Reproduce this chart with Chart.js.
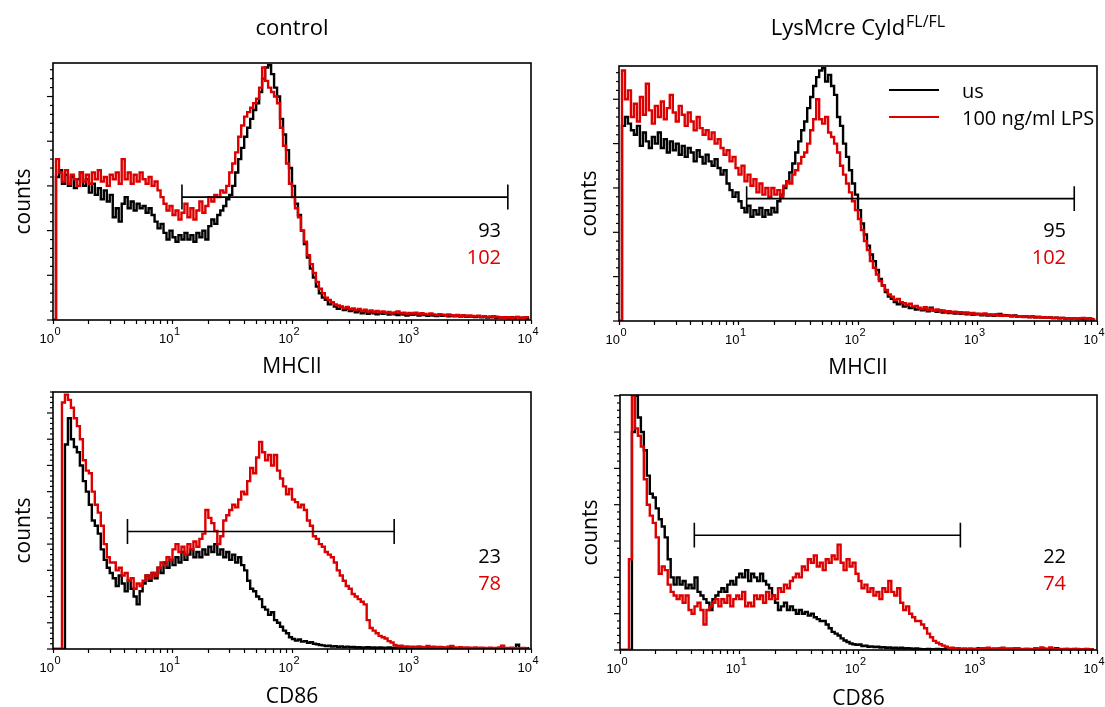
<!DOCTYPE html>
<html>
<head>
<meta charset="utf-8">
<title>MHCII / CD86 histograms</title>
<script src="https://cdn.jsdelivr.net/npm/chart.js@4.4.1/dist/chart.umd.min.js"></script>
<style>
  html, body { margin: 0; padding: 0; background: #fff; }
  body { position: relative; width: 1105px; height: 707px; overflow: hidden; }
  canvas { position: absolute; }
</style>
</head>
<body>
<canvas id="mhcControl"></canvas>
<canvas id="mhcCyld"></canvas>
<canvas id="cd86Control"></canvas>
<canvas id="cd86Cyld"></canvas>
<script>
// histogram bins, log10 of the fluorescence value (left edge of each bin)
const binExp = [
  0,0.025,0.05,0.075,0.1,0.125,0.15,0.175,0.2,0.225,
  0.25,0.275,0.3,0.325,0.35,0.375,0.4,0.425,0.45,0.475,
  0.5,0.525,0.55,0.575,0.6,0.625,0.65,0.675,0.7,0.725,
  0.75,0.775,0.8,0.825,0.85,0.875,0.9,0.925,0.95,0.975,
  1,1.025,1.05,1.075,1.1,1.125,1.15,1.175,1.2,1.225,
  1.25,1.275,1.3,1.325,1.35,1.375,1.4,1.425,1.45,1.475,
  1.5,1.525,1.55,1.575,1.6,1.625,1.65,1.675,1.7,1.725,
  1.75,1.775,1.8,1.825,1.85,1.875,1.9,1.925,1.95,1.975,
  2,2.025,2.05,2.075,2.1,2.125,2.15,2.175,2.2,2.225,
  2.25,2.275,2.3,2.325,2.35,2.375,2.4,2.425,2.45,2.475,
  2.5,2.525,2.55,2.575,2.6,2.625,2.65,2.675,2.7,2.725,
  2.75,2.775,2.8,2.825,2.85,2.875,2.9,2.925,2.95,2.975,
  3,3.025,3.05,3.075,3.1,3.125,3.15,3.175,3.2,3.225,
  3.25,3.275,3.3,3.325,3.35,3.375,3.4,3.425,3.45,3.475,
  3.5,3.525,3.55,3.575,3.6,3.625,3.65,3.675,3.7,3.725,
  3.75,3.775,3.8,3.825,3.85,3.875,3.9,3.925,3.95,3.975
];

// MHCII, control
const mhcControlUs = [
  0,64,67,61,65,60,64,59,63,66,
  60,63,57,61,56,59,54,58,53,56,
  46,50,44,52,55,50,53,49,52,50,
  51,48,50,47,44,41,43,39,36,40,
  37,35,38,36,39,36,38,35,39,37,
  40,36,42,45,43,47,49,51,54,56,
  60,66,72,77,82,86,90,94,97,102,
  108,113,114,110,104,100,90,83,76,68,
  60,52,47,40,34,28,23,19,15,12,
  10,9,7,8,6,5,6,4.5,5,4,
  4.5,3.5,4,3,3.8,2.8,3.5,3,2.6,3.2,
  2.8,3.2,2.4,3,2.6,2.2,2.8,2.4,2,2.6,
  2.3,2.8,2,2.5,2.2,1.9,2.4,2,1.8,2.2,
  1.9,2.2,1.7,2,1.6,1.9,1.5,1.8,1.4,1.7,
  1.5,1.3,1.6,1.2,1.4,1.1,1.3,1.6,1,1.2,
  1.1,1.3,0.9,1.2,0.8,1.4,0.9,1,0.7,1.2
];
const mhcControlLps = [
  0,72,66,62,67,61,65,63,60,66,
  62,65,61,66,63,67,62,64,60,65,
  63,66,61,72,63,66,61,65,62,66,
  63,61,64,60,62,58,55,52,49,51,
  47,49,45,48,52,46,50,45,49,53,
  48,51,55,53,56,55,58,57,60,66,
  70,75,82,87,91,93,95,97,99,104,
  113,107,104,102,100,97,86,78,70,61,
  55,50,46,40,35,29,25,21,17,14,
  12,10,9,8,7,6.5,6,5.2,5.8,4.8,
  5.2,4.4,5,4,4.6,3.8,4.3,3.6,4,3.4,
  3.8,3.2,3.6,3,3.4,3.8,3,3.3,2.8,3.2,
  2.9,3.3,2.6,3,2.7,2.4,2.9,2.5,2.2,2.6,
  2.4,2,2.5,2.1,1.9,2.3,1.8,2.1,1.7,2,
  1.8,1.6,1.9,1.4,1.7,1.3,1.6,1.2,1.5,1.1,
  1.3,1,1.2,0.9,1.1,1.3,0.8,1,1.2,0.9
];

// MHCII, LysMcre Cyld FL/FL
const mhcCyldUs = [
  0,88,92,89,86,84,88,79,85,81,
  78,83,80,85,78,82,76,81,77,80,
  75,79,74,78,76,72,77,74,71,75,
  72,70,73,69,66,68,62,59,56,58,
  54,51,49,52,47,50,48,51,47,50,
  48,51,49,54,57,60,63,67,71,76,
  81,86,90,96,101,106,110,113,114,108,
  111,106,102,92,88,80,74,68,62,57,
  50,44,39,34,30,27,23,19,16,13,
  11,10,8.5,7.5,8,6.5,7,5.8,6.2,5.2,
  5.6,4.8,5.2,4.4,6,4.6,4.2,4.8,3.8,4.2,
  3.6,4,3.4,3.8,3.2,3.6,3,3.4,2.8,3.2,
  3,2.6,3.1,2.5,2.8,2.4,2.9,3.2,2.3,2.6,
  2.4,2.1,2.5,2,2.2,1.9,2.1,1.8,2,1.7,
  1.8,1.5,1.7,1.4,1.6,1.3,1.5,1.2,1.4,1.1,
  1.2,1,1.3,0.9,1.1,0.8,1,1.2,0.8,1
];
const mhcCyldLps = [
  0,113,100,104,92,98,90,101,93,107,
  95,89,97,92,99,91,96,102,94,90,
  97,93,88,94,90,86,92,87,84,86,
  82,85,80,82,78,75,77,72,74,69,
  66,70,63,66,61,64,58,62,57,60,
  56,60,57,59,56,61,63,62,66,68,
  71,74,76,80,86,91,100,91,89,92,
  85,83,80,76,70,66,62,58,54,50,
  46,41,36,32,27,24,21,18,16,14,
  12,11,9.5,10,8.5,8,7.2,7.8,6.5,6.8,
  6,5.4,6.2,5,5.6,4.6,5.2,4.4,4.8,4.2,
  4.4,3.8,4.2,3.6,4,3.4,3.8,3.2,3.6,3,
  3.3,2.9,3.4,2.7,3,2.6,2.9,2.4,2.7,2.3,
  2.5,2.1,2.4,2,2.2,1.8,2.1,1.7,1.9,1.6,
  1.8,1.5,1.7,1.4,1.6,1.3,1.5,1.2,1.4,1.1,
  1.2,1,1.3,0.9,1.1,1.4,0.8,1,0.9,1.2
];

// CD86, control
const cd86ControlUs = [
  0,0,0,0,78,88,80,77,75,70,
  64,60,55,49,47,44,38,34,31,29,
  27,24,28,25,22,26,23,20,17,22,
  25,28,26,29,27,31,29,33,31,34,
  32,35,33,37,34,36,38,35,37,35,
  38,36,39,37,40,36,38,35,37,34,
  36,33,35,32,30,26,23,22,20,19,
  16,15,13,14,11,10,8.5,7,6,4.5,
  3.8,3.2,3.6,2.8,3,2.4,2.6,2,1.8,1.5,
  1.4,1.1,1.3,0.9,1.1,0.8,1,0.7,0.9,0.7,
  0.8,0.6,0.7,0.5,0.6,0.7,0.5,0.6,0.4,0.6,
  0.5,0.4,0.6,0.4,0.5,0.3,0.5,0.4,0.3,0.5,
  0.4,0.3,0.4,0.3,0.5,0.3,0.4,0.2,0.3,0.4,
  0.3,0.2,0.3,0.4,0.2,0.3,0.2,0.3,0.2,0.3,
  0.2,0.3,0.2,0.2,0.3,0.2,0.2,0.3,0.2,0.2,
  0.2,0.3,0.2,0.2,0.2,1.6,0.2,0.2,0.3,0.2
];
const cd86ControlLps = [
  0,0,0,94,97,95,92,88,85,80,
  72,68,67,60,55,52,47,40,35,33,
  33,30,31,28,29,26,27,23,25,24,
  26,28,27,29,28,31,33,32,35,34,
  38,40,37,39,36,40,38,41,39,42,
  44,53,50,48,45,40,43,49,51,53,
  55,54,57,60,59,64,69,67,73,79,
  75,72,74,70,74,68,65,62,59,61,
  57,56,54,55,53,49,47,43,42,40,
  39,37,36,35,33,30,28,26,24,23,
  21,20,19,18,17,11,8,7,6,5,
  4.5,4,3,2.5,1.5,1.1,1.3,0.9,1,0.8,
  0.9,0.7,1,0.8,0.6,1.2,0.7,0.9,0.6,0.8,
  0.7,0.5,0.9,1.2,0.6,0.5,0.7,0.4,0.6,0.5,
  0.4,0.6,0.3,0.5,0.4,0.3,0.5,0.3,0.4,0.6,
  1.3,0.4,0.3,0.5,0.3,0.2,0.3,0.4,0.2,0.3
];

// CD86, LysMcre Cyld FL/FL
const cd86CyldUs = [
  0,0,0,0,60,70,64,60,55,48,
  43,42,39,36,34,31,25,20,18,20,
  18,19,17,18,17,20,16,15,14,13,
  11,14,15,16,17,16,18,19,18,20,
  21,20,22,19,21,20,19,21,19,18,
  17,15,13,11,12,13,11,12,11,10,
  11,10,10.5,9.5,10,9,8.5,8,8,7,
  6,5,4.5,4,3.2,2.6,2.2,1.8,1.6,1.4,
  1.5,1.1,1.2,0.9,1,0.8,0.9,0.7,0.8,0.6,
  0.7,0.5,0.6,0.4,0.6,0.4,0.5,0.4,0.3,0.4,
  0.3,0.2,0.2,0.3,0.2,0.2,0.3,0.2,0.2,0.2,
  0.2,0.1,0.2,0.2,0.1,0.2,0.1,0.2,0.1,0.3,
  0.5,0.2,0.3,0.4,0.2,0.3,0.2,0.4,0.2,0.3,
  0.2,0.3,0.2,0.4,0.2,0.2,0.3,0.2,0.2,0.4,
  0.2,0.3,0.2,0.2,0.3,0.2,0.5,0.2,0.2,0.3,
  0.2,0.2,0.3,0.2,0.2,0.2,0.3,0.2,0.2,0.2
];
const cd86CyldLps = [
  0,0,0,25,70,61,59,56,47,40,
  37,35,31,21,23,22,18,16,15,14,
  15,13,15,11,10,12,13,11,7,11,
  12,13,14,12,14,13,15,12,14,15,
  14,16,12,13,12,15,14,15,13,16,
  14,15,14,17,16,18,17,19,20,21,
  20,23,22,25,24,26,23,24,22,25,
  24,26,25,29,24,22,25,23,24,21,
  19,17,18,16,17,15,16,14,17,16,
  19,16,15,17,13,11,12,10,9,8,
  8,7,6,4.5,3.5,2.5,2,1.6,1.2,0.9,
  0.5,0.6,0.4,0.5,0.3,0.4,0.3,0.4,0.3,0.3,
  0.3,0.5,0.4,0.6,0.3,0.4,0.3,0.5,0.6,0.3,
  0.4,0.3,0.5,0.3,0.2,0.3,0.2,0.3,0.2,0.4,
  0.3,0.7,0.4,0.3,0.7,0.3,0.2,0.3,0.2,0.2,
  0.3,0.2,0.2,0.3,0.2,0.2,0.2,0.2,0.2,0.2
];

// gates (fluorescence values) and the numbers printed next to them
const gateLow = [12, 11.7, 4.2, 4.2];
const gateHigh = [6400, 6450, 716, 715];
const gateLevel = [55, 55.2, 44.8, 31.6];
const usValue = [93, 95, 23, 22];
const lpsValue = [102, 102, 78, 74];
const seriesNames = ['us', '100 ng/ml LPS'];
const decadeExp = [0, 1, 2, 3, 4];

const RED = '#dd0000';
const font = (size) => size + 'px "Open Sans", "DejaVu Sans", sans-serif';
const tickFont = (size) => size + 'px "Liberation Sans", Arial, sans-serif';

const xTickValues = [];
for (let d = 0; d < 4; d++) {
  for (let m = 1; m < 10; m++) xTickValues.push(m * Math.pow(10, d));
}
xTickValues.push(10000);

const panels = [
  { id: 'mhcControl', box: [0, 0, 560, 385], yAxisW: 53, xAxisH: 65,
    pad: { left: 0, right: 29, top: 63, bottom: 0 },
    yMax: 115, major: 20, minor: 4, capHalf: 5.6,
    us: mhcControlUs, lps: mhcControlLps,
    title: ['control', ''], xTitle: 'MHCII', xTitleY: 373, numX: 501, numY: [237, 264] },
  { id: 'mhcCyld', box: [560, 0, 545, 385], yAxisW: 59, xAxisH: 64,
    pad: { left: 0, right: 8, top: 66, bottom: 0 },
    yMax: 115, major: 20, minor: 4, capHalf: 5.6,
    us: mhcCyldUs, lps: mhcCyldLps,
    title: ['LysMcre Cyld', 'FL/FL'], xTitle: 'MHCII', xTitleY: 374, numX: 1066, numY: [237, 264],
    legend: { lineX: [889, 939], textX: 962, lineY: [90, 117], textY: [98, 125] } },
  { id: 'cd86Control', box: [0, 385, 560, 322], yAxisW: 53, xAxisH: 58,
    pad: { left: 0, right: 29, top: 7, bottom: 0 },
    yMax: 98, major: 10, minor: 2, capHalf: 4.8,
    us: cd86ControlUs, lps: cd86ControlLps,
    xTitle: 'CD86', xTitleY: 703, numX: 501, numY: [563, 590] },
  { id: 'cd86Cyld', box: [560, 385, 545, 322], yAxisW: 60, xAxisH: 57,
    pad: { left: 0, right: 8, top: 10, bottom: 0 },
    yMax: 70.2, major: 10, minor: 2, capHalf: 3.4,
    us: cd86CyldUs, lps: cd86CyldLps,
    xTitle: 'CD86', xTitleY: 705, numX: 1066, numY: [563, 590] }
];

function toPoints(values) {
  return binExp.map((e, i) => ({ x: Math.pow(10, e), y: values[i] }));
}

function gatePath(i, capHalf) {
  const lo = gateLow[i], hi = gateHigh[i], y = gateLevel[i];
  return [
    { x: lo, y: y + capHalf }, { x: lo, y: y - capHalf }, { x: lo, y: y },
    { x: hi, y: y }, { x: hi, y: y + capHalf }, { x: hi, y: y - capHalf }
  ];
}

function decoPlugin(p, i) {
  return {
    id: 'panelDeco',
    afterDraw(chart) {
      const ctx = chart.ctx;
      const a = chart.chartArea;
      const sx = chart.scales.x, sy = chart.scales.y;
      const ox = p.box[0], oy = p.box[1];
      const midX = (a.left + a.right) / 2;

      ctx.save();
      ctx.strokeStyle = '#000';
      ctx.lineWidth = 1.6;
      ctx.strokeRect(a.left, a.top, a.right - a.left, a.bottom - a.top);

      // y ticks: long ones on major steps
      ctx.lineWidth = 1.2;
      const perMajor = Math.round(p.major / p.minor);
      for (let k = 0; k * p.minor <= p.yMax + 1e-6; k++) {
        const y = sy.getPixelForValue(k * p.minor);
        const len = k % perMajor === 0 ? 6 : 3;
        ctx.beginPath();
        ctx.moveTo(a.left - len, y);
        ctx.lineTo(a.left, y);
        ctx.stroke();
      }

      // decade labels 10^n
      ctx.fillStyle = '#000';
      ctx.textBaseline = 'alphabetic';
      decadeExp.forEach(n => {
        const x = sx.getPixelForValue(Math.pow(10, n));
        ctx.font = tickFont(13);
        ctx.textAlign = 'right';
        ctx.fillText('10', x + 1, a.bottom + 23);
        ctx.font = tickFont(11);
        ctx.textAlign = 'left';
        ctx.fillText(String(n), x + 1.5, a.bottom + 15);
      });

      // axis titles
      ctx.font = font(21);
      ctx.textAlign = 'center';
      ctx.fillText(p.xTitle, midX, p.xTitleY - oy);
      ctx.save();
      ctx.translate(a.left - 23, (a.top + a.bottom) / 2 + 10);
      ctx.rotate(-Math.PI / 2);
      ctx.fillText('counts', 0, 0);
      ctx.restore();

      // numbers under the gate
      ctx.font = font(20);
      ctx.textAlign = 'right';
      ctx.fillStyle = '#000';
      ctx.fillText(String(usValue[i]), p.numX - ox, p.numY[0] - oy);
      ctx.fillStyle = RED;
      ctx.fillText(String(lpsValue[i]), p.numX - ox, p.numY[1] - oy);

      // column title with optional superscript
      if (p.title) {
        ctx.fillStyle = '#000';
        ctx.textAlign = 'left';
        ctx.font = font(22);
        const w1 = ctx.measureText(p.title[0]).width;
        ctx.font = font(16);
        const w2 = p.title[1] ? ctx.measureText(p.title[1]).width + 1 : 0;
        const x0 = midX - (w1 + w2) / 2;
        ctx.font = font(22);
        ctx.fillText(p.title[0], x0, 35 - oy);
        if (p.title[1]) {
          ctx.font = font(16);
          ctx.fillText(p.title[1], x0 + w1 + 1, 27 - oy);
        }
      }

      if (p.legend) {
        const L = p.legend;
        ctx.lineWidth = 2.2;
        ctx.font = font(20);
        ctx.textAlign = 'left';
        [['#000', 0], [RED, 1]].forEach(([c, k]) => {
          ctx.strokeStyle = c;
          ctx.beginPath();
          ctx.moveTo(L.lineX[0] - ox, L.lineY[k] - oy);
          ctx.lineTo(L.lineX[1] - ox, L.lineY[k] - oy);
          ctx.stroke();
          ctx.fillStyle = '#000';
          ctx.fillText(seriesNames[k], L.textX - ox, L.textY[k] - oy);
        });
      }
      ctx.restore();
    }
  };
}

panels.forEach((p, i) => {
  const canvas = document.getElementById(p.id);
  canvas.width = p.box[2];
  canvas.height = p.box[3];
  canvas.style.left = p.box[0] + 'px';
  canvas.style.top = p.box[1] + 'px';

  new Chart(canvas.getContext('2d'), {
    type: 'line',
    data: {
      datasets: [
        { label: 'gate', data: gatePath(i, p.capHalf), borderColor: '#000', borderWidth: 1.6,
          pointRadius: 0, order: 0 },
        { label: seriesNames[1], data: toPoints(p.lps), borderColor: RED, borderWidth: 2.4,
          stepped: true, pointRadius: 0, order: 1 },
        { label: seriesNames[0], data: toPoints(p.us), borderColor: '#000', borderWidth: 2.4,
          stepped: true, pointRadius: 0, order: 2 }
      ]
    },
    options: {
      responsive: false,
      animation: false,
      events: [],
      layout: { padding: p.pad },
      plugins: {
        legend: { display: false },
        tooltip: { enabled: false }
      },
      scales: {
        x: {
          type: 'logarithmic',
          min: 1,
          max: 10000,
          afterBuildTicks: (s) => { s.ticks = xTickValues.map(v => ({ value: v })); },
          afterFit: (s) => { s.height = p.xAxisH; },
          ticks: { display: false },
          border: { display: false },
          grid: { drawOnChartArea: false, drawTicks: true, tickLength: 4, tickWidth: 1.2, tickColor: '#000' }
        },
        y: {
          min: 0,
          max: p.yMax,
          afterFit: (s) => { s.width = p.yAxisW; },
          ticks: { display: false },
          border: { display: false },
          grid: { display: false }
        }
      }
    },
    plugins: [decoPlugin(p, i)]
  });
});
</script>
</body>
</html>
